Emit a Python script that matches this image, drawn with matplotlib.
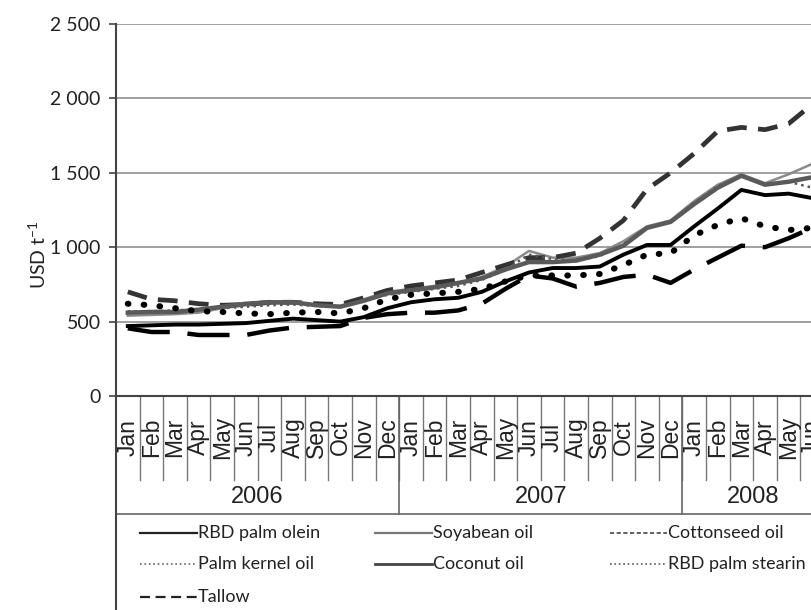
import matplotlib.pyplot as plt
from matplotlib.lines import Line2D
from matplotlib.transforms import blended_transform_factory

plt.rcParams['font.family'] = ['Lato', 'DejaVu Sans']

# category axis: months 2006 - Jun 2008
months = ['Jan', 'Feb', 'Mar', 'Apr', 'May', 'Jun', 'Jul', 'Aug', 'Sep', 'Oct', 'Nov', 'Dec',
          'Jan', 'Feb', 'Mar', 'Apr', 'May', 'Jun', 'Jul', 'Aug', 'Sep', 'Oct', 'Nov', 'Dec',
          'Jan', 'Feb', 'Mar', 'Apr', 'May', 'Jun']
years = ['2006', '2007', '2008']
year_len = [12, 12, 6]

# prices, USD per tonne
palm_olein = [470, 475, 480, 480, 485, 490, 505, 520, 510, 500, 530, 590,
              630, 650, 660, 700, 770, 830, 860, 860, 870, 950, 1015, 1015,
              1140, 1260, 1385, 1350, 1360, 1330]
soyabean = [540, 545, 550, 560, 590, 610, 620, 625, 610, 605, 650, 700,
            720, 740, 760, 800, 870, 975, 930, 930, 960, 1040, 1140, 1180,
            1310, 1420, 1490, 1430, 1490, 1560]
cottonseed = [700, 650, 640, 620, 610, 615, 630, 630, 620, 615, 660, 710,
              740, 760, 780, 830, 880, 930, 930, 960, 1060, 1180, 1390, 1500,
              1630, 1780, 1805, 1790, 1830, 1960]
palm_kernel = [570, 570, 575, 585, 590, 600, 610, 615, 605, 600, 640, 680,
               700, 720, 740, 780, 850, 950, 920, 910, 940, 1020, 1130, 1170,
               1300, 1410, 1480, 1420, 1440, 1400]
coconut = [560, 565, 565, 580, 600, 620, 630, 630, 610, 600, 640, 690,
           710, 730, 760, 790, 850, 900, 900, 910, 950, 1010, 1130, 1170,
           1290, 1400, 1480, 1420, 1440, 1470]
palm_stearin = [620, 610, 590, 570, 565, 555, 550, 560, 565, 555, 590, 650,
                680, 690, 700, 720, 770, 810, 810, 810, 820, 880, 950, 960,
                1080, 1150, 1195, 1140, 1115, 1130]
tallow = [455, 430, 430, 410, 410, 410, 440, 460, 465, 470, 525, 550,
          560, 560, 575, 620, 720, 810, 790, 735, 760, 800, 815, 760,
          850, 930, 1010, 1000, 1060, 1130]

W, H = 812, 610
def fx(px):
    return px / W
def fy(py):
    return (H - py) / H

fig = plt.figure(figsize=(8.12, 6.10), dpi=100)
# the chart runs a bit past the right edge, like the cropped original
ax = fig.add_axes([fx(116), fy(396), fx(824) - fx(116), fy(24) - fy(396)])

x = list(range(len(months)))

# series: label, data, plot style, legend style
series = [
    ('RBD palm olein', palm_olein, dict(color='black', lw=2.8, ls='-'),
     dict(color='#222222', lw=1.6, ls='-')),
    ('Soyabean oil', soyabean, dict(color='#8a8a8a', lw=1.8, ls='-'),
     dict(color='#777777', lw=1.6, ls='-')),
    ('Cottonseed oil', cottonseed, dict(color='#333333', lw=3.4, ls=(0, (4.2, 2.4))),
     dict(color='#444444', lw=1.2, ls=(0, (2.5, 1.5)))),
    ('Palm kernel oil', palm_kernel, dict(color='#555555', lw=1.8, ls=':'),
     dict(color='#666666', lw=1.2, ls=':')),
    ('Coconut oil', coconut, dict(color='#5a5a5a', lw=3.2, ls='-'),
     dict(color='#444444', lw=2.0, ls='-')),
    ('RBD palm stearin', palm_stearin, dict(color='black', lw=4.4, ls=(0, (0.1, 2.5)),
                                            dash_capstyle='round'),
     dict(color='#555555', lw=1.2, ls=':')),
    ('Tallow', tallow, dict(color='black', lw=3.2, ls=(0, (9.5, 4.0))),
     dict(color='#222222', lw=1.6, ls=(0, (4.5, 2.5)))),
]

for name, vals, style, _ in series:
    ax.plot(x, vals, **style)

ax.set_xlim(-0.5, len(months) - 0.5)
ax.set_ylim(0, 2500)
ax.set_yticks([0, 500, 1000, 1500, 2000, 2500])
ax.set_yticklabels(['0', '500', '1 000', '1 500', '2 000', '2 500'])
ax.yaxis.grid(True, color='#999999', lw=1.3)
ax.set_axisbelow(True)
ax.set_xticks([])
ax.tick_params(axis='y', length=5, width=1.2, color='#444444', pad=6,
               labelsize=14, labelcolor='#222222')
for s in ['top', 'right']:
    ax.spines[s].set_visible(False)
for s in ['left', 'bottom']:
    ax.spines[s].set_color('#444444')
    ax.spines[s].set_linewidth(1.5)

fig.text(fx(38), fy(255), 'USD t$^{\\mathregular{-1}}$', rotation=90,
         ha='center', va='center', fontsize=14, color='#222222')

# two-level category axis drawn under the plot
blend = blended_transform_factory(ax.transData, fig.transFigure)
for i, m in enumerate(months):
    ax.text(i, fy(437.5), m, transform=blend, rotation=90, ha='center', va='center',
            fontsize=16.5, family='Liberation Sans', color='#222222')
for b in range(1, len(months) + 1):
    ax.plot([b - 0.5, b - 0.5], [fy(396), fy(480)], transform=blend, clip_on=False,
            color='#777777', lw=1.0)

start = 0
for yr, n in zip(years, year_len):
    ax.text(start + n / 2 - 0.5, fy(497), yr, transform=blend, ha='center', va='center',
            fontsize=17, family='Liberation Sans', color='#222222')
    ax.plot([start - 0.5, start - 0.5], [fy(396), fy(514)], transform=blend,
            clip_on=False, color='#666666', lw=1.2)
    start += n
ax.plot([-0.5, len(months) - 0.5], [fy(514), fy(514)], transform=blend,
        clip_on=False, color='#666666', lw=1.2)
ax.plot([-0.5, -0.5], [fy(396), fy(610)], transform=blend, clip_on=False,
        color='#444444', lw=1.5)

# legend, laid out in rows of three
col_x = [140, 375, 610]
row_y = [533, 564, 597]
for k, (name, _, _, lstyle) in enumerate(series):
    cx = col_x[k % 3]
    ry = row_y[k // 3]
    fig.add_artist(Line2D([fx(cx), fx(cx + 57)], [fy(ry), fy(ry)], **lstyle))
    fig.text(fx(cx + 58), fy(ry), name, ha='left', va='center', fontsize=13,
             color='#222222')

plt.savefig('out.png', dpi=100)
